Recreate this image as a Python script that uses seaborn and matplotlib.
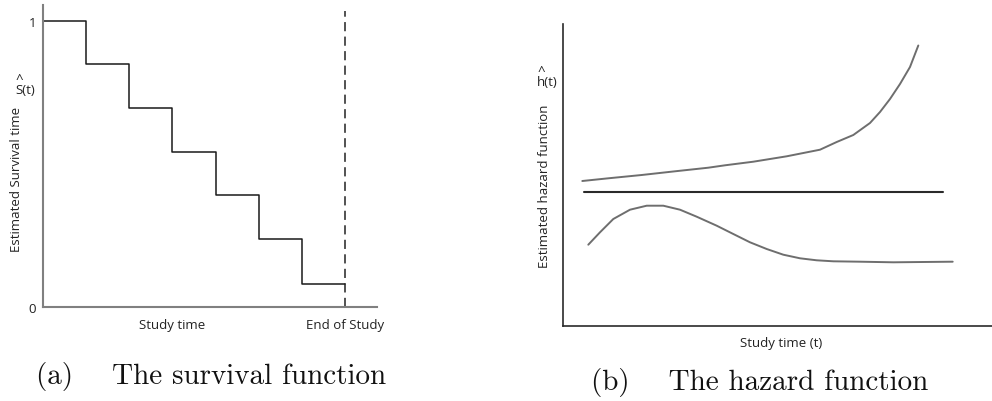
import numpy as np
import pandas as pd
import matplotlib
matplotlib.use("Agg")
import matplotlib.pyplot as plt
import seaborn as sns

# ---- survival function (Kaplan-Meier style step curve) ----
surv_time = [0, 1, 2, 3, 4, 5, 6, 7]
surv_prob = [1.0, 0.85, 0.696, 0.542, 0.392, 0.238, 0.08, 0.08]
end_of_study = 7
surv_tick_pos = [3, 7]
surv_tick_labels = ["Study time", "End of Study"]

# ---- hazard function shapes ----
inc_time = [19.3, 45.3, 78.7, 112, 145.3, 162, 190.3, 223.7, 257, 273.7, 290.3,
            307, 317, 327, 337, 347, 355.3]
inc_haz = [145, 147.7, 151, 154.7, 158.3, 160.7, 164.3, 169.7, 176.3, 184, 191,
           203, 214, 227, 242, 259, 280.5]

const_time = [21.3, 380.3]
const_haz = [133.7, 133.7]

hump_time = [25.3, 37, 50.3, 67, 83.7, 100.3, 117, 133.7, 153.7, 170.3, 187, 203.7,
             220.3, 237, 253.7, 270.3, 297, 330.3, 389.7]
hump_haz = [81.3, 93.7, 107, 116.3, 120.3, 120.3, 116.3, 109.3, 100.3, 92, 83.7, 77,
            71.3, 67.7, 65.7, 64.7, 64.3, 63.7, 64.3]

sns.set_theme(style="white")
plt.rcParams["font.family"] = ["Open Sans", "DejaVu Sans"]

W, H = 992, 402
fig = plt.figure(figsize=(W / 100, H / 100), dpi=100)


def px_rect(x0, y0, x1, y1):
    return [x0 / W, 1 - y1 / H, (x1 - x0) / W, (y1 - y0) / H]


def fig_text(x, y, s, ha="center", **kw):
    fig.text(x / W, 1 - y / H, s, ha=ha, va="center", **kw)


label_kw = dict(fontsize=9.5, color="#222222")

# ---------------- panel (a) ----------------
ax1 = fig.add_axes(px_rect(43, 6, 377, 308))
surv = pd.DataFrame({"t": surv_time, "S": surv_prob})
sns.lineplot(data=surv, x="t", y="S", ax=ax1, drawstyle="steps-post",
             color="#1a1a1a", linewidth=1.1)
ax1.plot([end_of_study, end_of_study], [0, 1.035], color="#222222",
         linewidth=1.1, dashes=(6, 3.5))
ax1.set_xlim(0, 7.74)
ax1.set_ylim(0, 1.056)
ax1.set_xticks(surv_tick_pos, surv_tick_labels)
ax1.set_yticks([0, 1], ["0", "1"])
ax1.tick_params(axis="both", length=0, labelsize=9.5, labelcolor="#222222")
ax1.tick_params(axis="x", pad=8)
ax1.tick_params(axis="y", pad=5)
ax1.set_xlabel("")
ax1.set_ylabel("")
for side in ("top", "right"):
    ax1.spines[side].set_visible(False)
for side in ("left", "bottom"):
    ax1.spines[side].set_color("#808080")
    ax1.spines[side].set_linewidth(1.5)

fig_text(17, 179, "Estimated Survival time", rotation=90, **label_kw)
fig_text(15, 85, "^\nS(t)", ha="left", multialignment="left",
         linespacing=0.7, **label_kw)
fig_text(211, 377, "(a)    The survival function", family="cmr10",
         fontsize=21, color="#111111")

# ---------------- panel (b) ----------------
ax2 = fig.add_axes(px_rect(563, 25, 992, 327))
inc = pd.DataFrame({"t": inc_time, "h": inc_haz})
const = pd.DataFrame({"t": const_time, "h": const_haz})
hump = pd.DataFrame({"t": hump_time, "h": hump_haz})
sns.lineplot(data=inc, x="t", y="h", ax=ax2, color="#6e6e6e", linewidth=1.4)
sns.lineplot(data=const, x="t", y="h", ax=ax2, color="#2a2a2a", linewidth=1.5)
sns.lineplot(data=hump, x="t", y="h", ax=ax2, color="#6e6e6e", linewidth=1.4)
ax2.set_xlim(0, 429)
ax2.set_ylim(0, 302)
ax2.set_xticks([])
ax2.set_yticks([])
ax2.set_xlabel("")
ax2.set_ylabel("")
for side in ("top", "right"):
    ax2.spines[side].set_visible(False)
for side in ("left", "bottom"):
    ax2.spines[side].set_color("#2a2a2a")
    ax2.spines[side].set_linewidth(1.2)

fig_text(545, 186, "Estimated hazard function", rotation=90, **label_kw)
fig_text(537, 77, "^\nh(t)", ha="left", multialignment="left",
         linespacing=0.7, **label_kw)
fig_text(781, 344, "Study time (t)", **label_kw)
fig_text(760, 383, "(b)    The hazard function", family="cmr10",
         fontsize=21, color="#111111")

fig.savefig("out.png", dpi=100, facecolor="white")
